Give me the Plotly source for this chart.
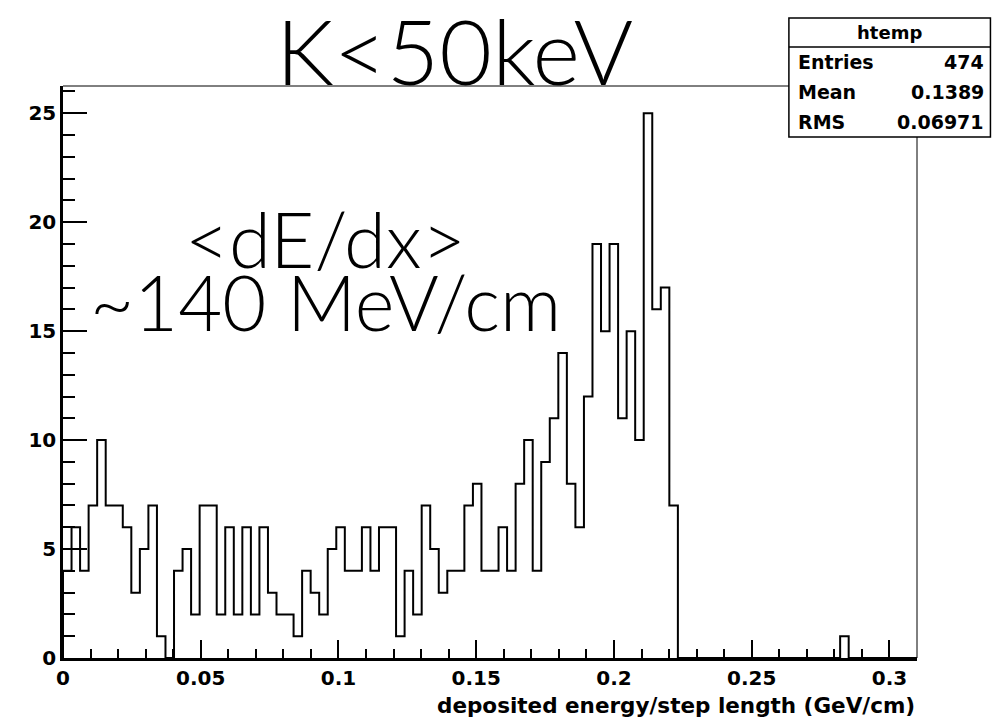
import numpy as np
import plotly.graph_objects as go

# ---- data ----
x_min = 0.0
x_max = 0.31
n_bins = 100
counts = [
    4, 6, 4, 7, 10, 7, 7, 6, 3, 5, 7, 1, 0, 4, 5, 2,
    7, 7, 2, 6, 2, 6, 2, 6, 3, 2, 2, 1, 4, 3, 2, 5,
    6, 4, 4, 6, 4, 6, 6, 1, 4, 2, 7, 5, 3, 4, 4, 7,
    8, 4, 4, 6, 4, 8, 10, 4, 9, 11, 14, 8, 6, 12, 19, 15,
    19, 11, 15, 10, 25, 16, 17, 7,
    0, 0, 0, 0, 0, 0, 0, 0, 0, 0, 0, 0, 0, 0, 0, 0, 0, 0, 0,
    1, 0, 0, 0, 0, 0, 0, 0, 0,
]
y_max = 26.25
x_tick_vals = [0, 0.05, 0.1, 0.15, 0.2, 0.25, 0.3]
x_tick_text = ["0", "0.05", "0.1", "0.15", "0.2", "0.25", "0.3"]
y_tick_vals = [0, 5, 10, 15, 20, 25]
y_tick_text = ["0", "5", "10", "15", "20", "25"]
title_text = "K<50keV"
note_lines = ["<dE/dx>", "~140 MeV/cm"]
x_title = "deposited energy/step length (GeV/cm)"
stats_name = "htemp"
stats_rows = [("Entries", "474"), ("Mean", "0.1389"), ("RMS", "0.06971")]

# ---- build histogram outline ----
edges = np.linspace(x_min, x_max, n_bins + 1)
xs = [edges[0]] + list(edges[:-1]) + [edges[-1]]
ys = [0] + counts + [0]

ROOTFONT = "DejaVu Sans, Liberation Sans, Arial, sans-serif"
LIGHT = "Lato, Open Sans, Roboto, sans-serif"

fig = go.Figure()
fig.add_trace(go.Scatter(
    x=xs, y=ys, mode="lines", line=dict(color="black", width=2, shape="hv"),
    hoverinfo="skip", showlegend=False,
))

fig.update_layout(
    width=997, height=712,
    margin=dict(l=55, r=88, t=78, b=62),
    paper_bgcolor="white", plot_bgcolor="white",
    showlegend=False,
)
fig.update_xaxes(
    range=[x_min, x_max], showgrid=False, zeroline=False,
    showline=True, linecolor="black", linewidth=2.5,
    ticks="inside", ticklen=18, tickwidth=2, tickcolor="black",
    tickvals=x_tick_vals, ticktext=x_tick_text,
    tickfont=dict(family=ROOTFONT, size=20, color="black", weight="bold"),
    minor=dict(ticks="inside", ticklen=9, tickwidth=2, tickcolor="black", dtick=0.01, tick0=0, showgrid=False),
)
fig.update_yaxes(
    range=[0, y_max], showgrid=False, zeroline=False,
    showline=True, linecolor="black", linewidth=2.5,
    ticks="inside", ticklen=24, tickwidth=2, tickcolor="black",
    tickvals=y_tick_vals, ticktext=y_tick_text,
    tickfont=dict(family=ROOTFONT, size=20, color="black", weight="bold"),
    ticklabelstandoff=0,
    minor=dict(ticks="inside", ticklen=12, tickwidth=2, tickcolor="black", dtick=1, tick0=0, showgrid=False),
)

# frame top and right
fig.add_shape(type="line", xref="paper", yref="paper", x0=0, x1=1, y0=1, y1=1,
              line=dict(color="black", width=1))
fig.add_shape(type="line", xref="paper", yref="paper", x0=1, x1=1, y0=0, y1=1,
              line=dict(color="black", width=1))

# stats box
bx0, bx1 = 0.850, 1.086
by0, by1 = 0.911, 1.119
bdiv = 1.068
fig.add_shape(type="rect", xref="paper", yref="paper", x0=bx0, x1=bx1, y0=by0, y1=by1,
              line=dict(color="black", width=1.5), fillcolor="white", layer="above")
fig.add_shape(type="line", xref="paper", yref="paper", x0=bx0, x1=bx1, y0=bdiv, y1=bdiv,
              line=dict(color="black", width=1.5), layer="above")
fig.add_annotation(xref="paper", yref="paper", x=(bx0 + bx1) / 2, y=(bdiv + by1) / 2,
                   text=stats_name, showarrow=False, xanchor="center", yanchor="middle",
                   font=dict(family=ROOTFONT, size=18, color="black", weight="bold"))
row_h = (bdiv - by0) / 3
for i, (lab, val) in enumerate(stats_rows):
    yy = bdiv - row_h * (i + 0.5)
    fig.add_annotation(xref="paper", yref="paper", x=bx0 + 0.008, y=yy, text=lab,
                       showarrow=False, xanchor="left", yanchor="middle",
                       font=dict(family=ROOTFONT, size=19, color="black", weight="bold"))
    fig.add_annotation(xref="paper", yref="paper", x=bx1 - 0.005, y=yy, text=val,
                       showarrow=False, xanchor="right", yanchor="middle",
                       font=dict(family=ROOTFONT, size=19, color="black", weight="bold"))

# x axis title
fig.add_annotation(xref="paper", yref="paper", x=1.0, y=-0.083, text=x_title,
                   showarrow=False, xanchor="right", yanchor="middle",
                   font=dict(family=ROOTFONT, size=21.5, color="black", weight="bold"))

# big title
fig.add_annotation(xref="paper", yref="paper", x=0.459, y=1.063, text=title_text,
                   showarrow=False, xanchor="center", yanchor="middle",
                   font=dict(family=LIGHT, size=91, color="black", weight=300))

# note text
fig.add_annotation(xref="paper", yref="paper", x=0.307, y=0.734, text=note_lines[0],
                   showarrow=False, xanchor="center", yanchor="middle",
                   font=dict(family=LIGHT, size=76, color="black", weight=300))
fig.add_annotation(xref="paper", yref="paper", x=0.307, y=0.623, text=note_lines[1],
                   showarrow=False, xanchor="center", yanchor="middle",
                   font=dict(family=LIGHT, size=76, color="black", weight=300))

fig.write_html("out.html")
